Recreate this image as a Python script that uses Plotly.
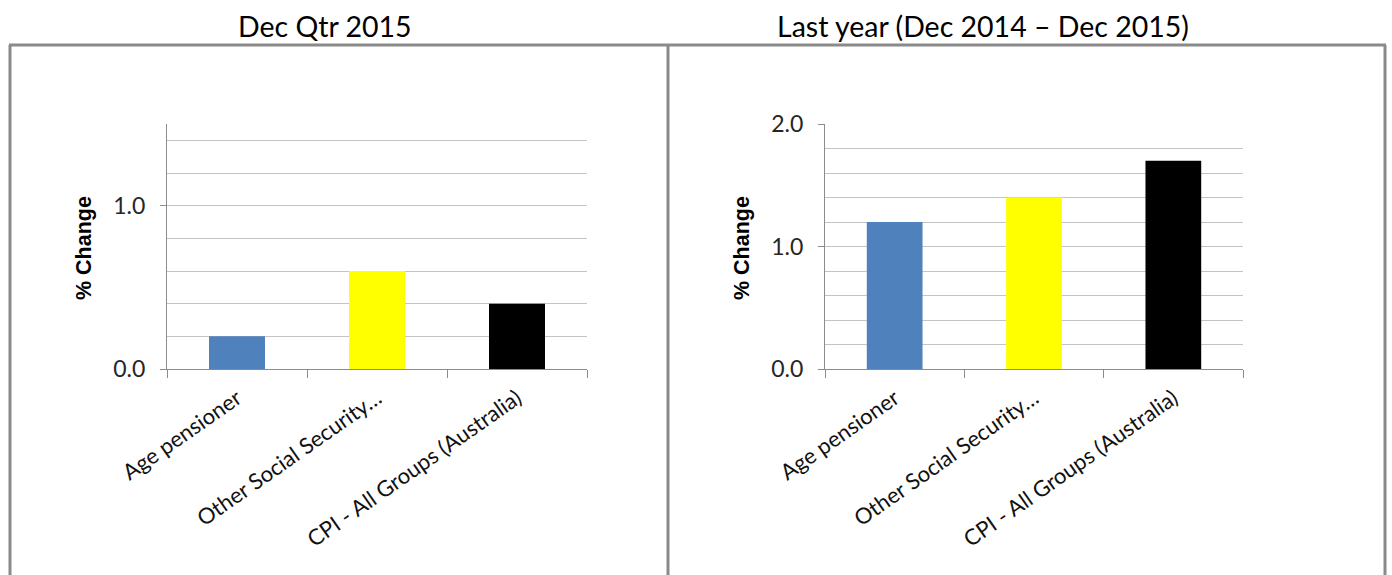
import plotly.graph_objects as go

W, H = 1392, 575

categories = ["Age pensioner", "Other Social Security…", "CPI - All Groups (Australia)"]
qtr_values = [0.2, 0.6, 0.4]
year_values = [1.2, 1.4, 1.7]
bar_colors = ["#4F81BD", "#FFFF00", "#000000"]
panel_titles = ["Dec Qtr 2015", "Last year (Dec 2014 – Dec 2015)"]
y_title = "% Change"


def px(x):
    return x / W


def py(y):
    return 1 - y / H


fig = go.Figure()
fig.add_trace(go.Bar(x=categories, y=qtr_values, marker=dict(color=bar_colors, line=dict(width=0)),
                     width=0.4, xaxis="x", yaxis="y", showlegend=False))
fig.add_trace(go.Bar(x=categories, y=year_values, marker=dict(color=bar_colors, line=dict(width=0)),
                     width=0.4, xaxis="x2", yaxis="y2", showlegend=False))

tickfont = dict(family="Lato", size=23, color="#262626")
catfont = dict(family="Lato", size=22, color="#111111")
axcol = "#8C8C8C"
gridcol = "#C4C4C4"

xcommon = dict(type="category", showline=True, linecolor=axcol, linewidth=1, ticks="outside",
               tickson="boundaries", ticklen=8, tickcolor=axcol, tickangle=-35, tickfont=catfont,
               ticklabelstandoff=7,
               showgrid=False, zeroline=False, fixedrange=True, automargin=False)
ycommon = dict(showline=True, linecolor=axcol, linewidth=1, ticks="outside", ticklen=6,
               tickcolor=axcol, tickfont=tickfont, tickformat=".1f", dtick=1.0, tick0=0,
               ticklabelstandoff=10,
               showgrid=True, gridcolor=gridcol, gridwidth=1, zeroline=False,
               minor=dict(dtick=0.2, showgrid=True, gridcolor=gridcol, gridwidth=1, ticks=""),
               fixedrange=True, automargin=False)

fig.update_layout(
    width=W, height=H, margin=dict(l=0, r=0, t=0, b=0, pad=0, autoexpand=False),
    paper_bgcolor="white", plot_bgcolor="white",
    bargap=0.6,
    xaxis=dict(domain=[px(167), px(587)], anchor="y", **xcommon),
    xaxis2=dict(domain=[px(825), px(1243)], anchor="y2", **xcommon),
    yaxis=dict(domain=[py(369), py(124)], anchor="x", range=[0, 1.5], **ycommon),
    yaxis2=dict(domain=[py(369), py(124)], anchor="x2", range=[0, 2.0], **ycommon),
)

# titles
for cx, t in zip([325, 983], panel_titles):
    fig.add_annotation(text=t, x=px(cx), y=py(26), xref="paper", yref="paper",
                       showarrow=False, xanchor="center", yanchor="middle",
                       font=dict(family="Lato", size=28.5, color="#000000"))
# y-axis titles
for cx in [84, 742]:
    fig.add_annotation(text=f"<b>{y_title}</b>", x=px(cx), y=py(248), xref="paper", yref="paper",
                       showarrow=False, xanchor="center", yanchor="middle", textangle=-90,
                       font=dict(family="Liberation Sans", size=21.5, color="#000000"))

# panel borders
bcol = "#8A8A8A"
bw = 3
fig.add_shape(type="line", xref="paper", yref="paper", x0=px(9), x1=px(1386), y0=py(45), y1=py(45),
              line=dict(color=bcol, width=bw))
for x in [10, 668, 1385]:
    fig.add_shape(type="line", xref="paper", yref="paper", x0=px(x), x1=px(x), y0=py(45), y1=py(580),
                  line=dict(color=bcol, width=bw))

fig.write_html("out.html")
